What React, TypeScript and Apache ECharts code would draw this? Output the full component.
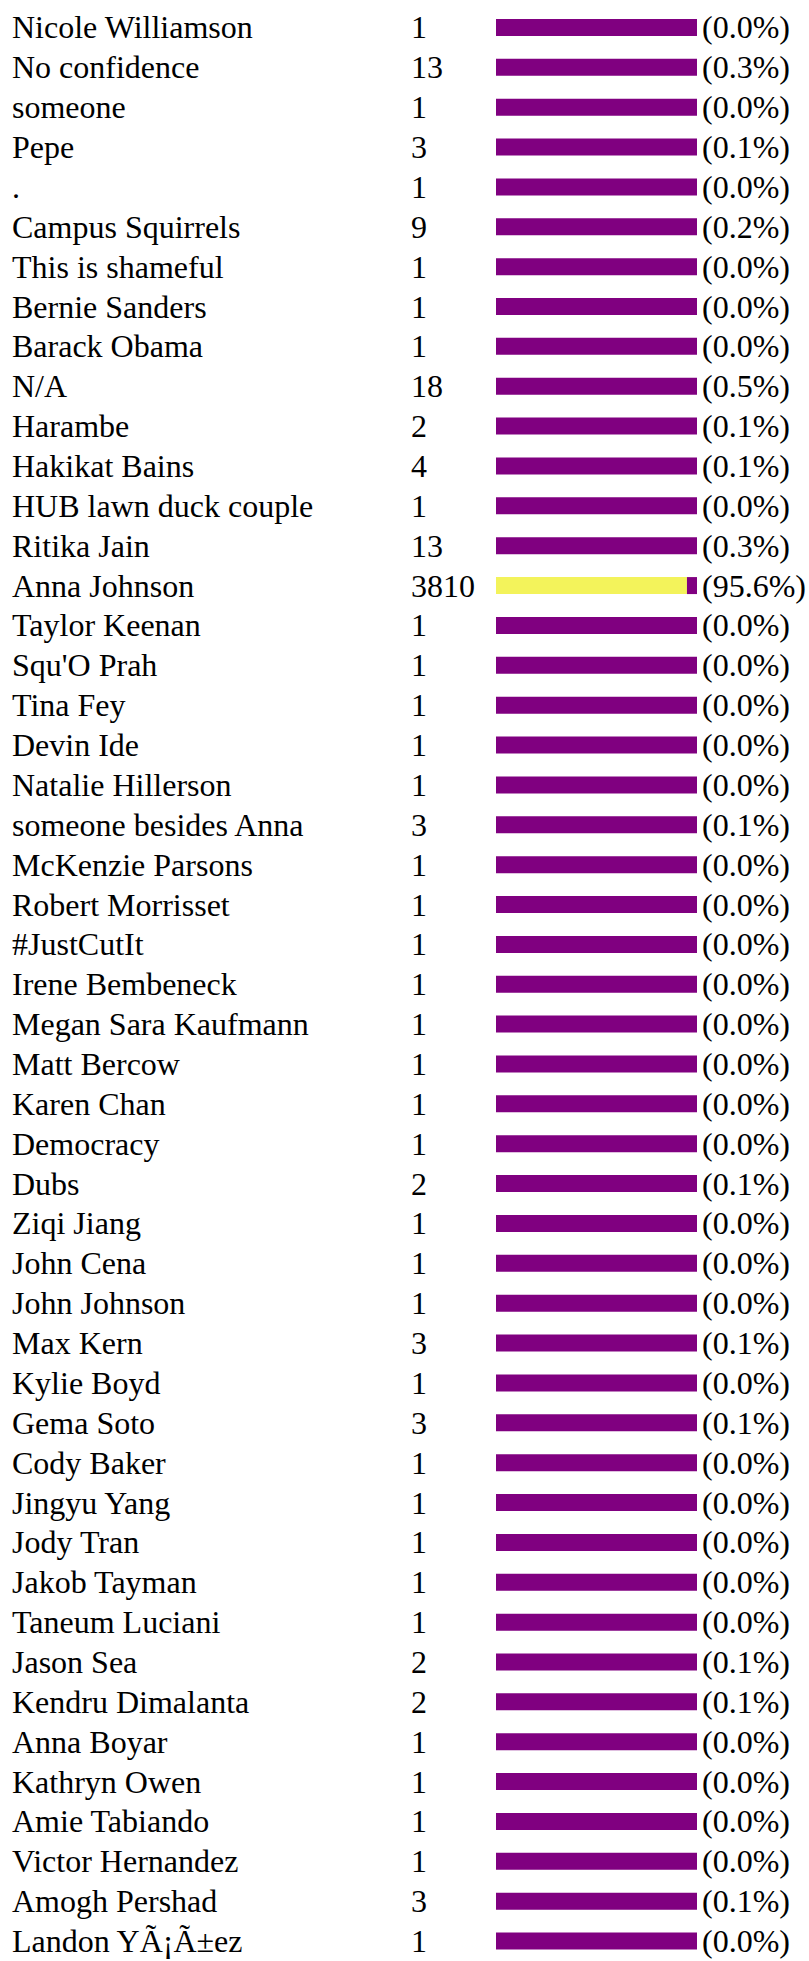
import React, { useEffect, useRef } from "react";
import * as echarts from "echarts";

const names: string[] = [
  "Nicole Williamson", "No confidence", "someone", "Pepe", ".", "Campus Squirrels",
  "This is shameful", "Bernie Sanders", "Barack Obama", "N/A", "Harambe", "Hakikat Bains",
  "HUB lawn duck couple", "Ritika Jain", "Anna Johnson", "Taylor Keenan", "Squ'O Prah",
  "Tina Fey", "Devin Ide", "Natalie Hillerson", "someone besides Anna", "McKenzie Parsons",
  "Robert Morrisset", "#JustCutIt", "Irene Bembeneck", "Megan Sara Kaufmann", "Matt Bercow",
  "Karen Chan", "Democracy", "Dubs", "Ziqi Jiang", "John Cena", "John Johnson", "Max Kern",
  "Kylie Boyd", "Gema Soto", "Cody Baker", "Jingyu Yang", "Jody Tran", "Jakob Tayman",
  "Taneum Luciani", "Jason Sea", "Kendru Dimalanta", "Anna Boyar", "Kathryn Owen",
  "Amie Tabiando", "Victor Hernandez", "Amogh Pershad", "Landon YÃ¡Ã±ez",
];

const counts: number[] = [
  1, 13, 1, 3, 1, 9, 1, 1, 1, 18, 2, 4, 1, 13, 3810, 1, 1, 1, 1, 1, 3, 1, 1, 1, 1, 1, 1,
  1, 1, 2, 1, 1, 1, 3, 1, 3, 1, 1, 1, 1, 1, 2, 2, 1, 1, 1, 1, 3, 1,
];

const percents: number[] = [
  0.0, 0.3, 0.0, 0.1, 0.0, 0.2, 0.0, 0.0, 0.0, 0.5, 0.1, 0.1, 0.0, 0.3, 95.6, 0.0, 0.0,
  0.0, 0.0, 0.0, 0.1, 0.0, 0.0, 0.0, 0.0, 0.0, 0.0, 0.0, 0.0, 0.1, 0.0, 0.0, 0.0, 0.1,
  0.0, 0.1, 0.0, 0.0, 0.0, 0.0, 0.0, 0.1, 0.1, 0.0, 0.0, 0.0, 0.0, 0.1, 0.0,
];

const FONT = "serif";

export default function App() {
  const ref = useRef<HTMLDivElement>(null);
  useEffect(() => {
    if (!ref.current) return;
    const chart = echarts.init(ref.current, undefined, { renderer: "svg" });
    const yes = percents.map((p) => Math.floor(p));
    const rest = yes.map((v) => 100 - v);
    const labelStyle = {
      fontFamily: FONT,
      fontSize: 32,
      color: "#000",
      align: "left" as const,
    };
    chart.setOption({
      animation: false,
      backgroundColor: "#fff",
      textStyle: { fontFamily: FONT },
      grid: { left: 496, right: 112, top: 7.5, bottom: -6.5, containLabel: false },
      xAxis: { type: "value", min: 0, max: 100, show: false },
      yAxis: [
        {
          type: "category",
          data: names,
          inverse: true,
          position: "left",
          axisLine: { show: false },
          axisTick: { show: false },
          axisLabel: { ...labelStyle, margin: 484, interval: 0 },
        },
        {
          type: "category",
          data: counts.map(String),
          inverse: true,
          position: "left",
          axisLine: { show: false },
          axisTick: { show: false },
          axisLabel: { ...labelStyle, margin: 85, interval: 0 },
        },
        {
          type: "category",
          data: percents.map((p) => `(${p.toFixed(1)}%)`),
          inverse: true,
          position: "right",
          axisLine: { show: false },
          axisTick: { show: false },
          axisLabel: { ...labelStyle, margin: 5, interval: 0 },
        },
      ],
      series: [
        {
          type: "bar",
          stack: "s",
          data: yes,
          barWidth: 17,
          itemStyle: { color: "#f3f35b" },
        },
        {
          type: "bar",
          stack: "s",
          data: rest,
          barWidth: 17,
          itemStyle: { color: "#800080" },
        },
      ],
    });
    return () => chart.dispose();
  }, []);
  return (
    <div
      ref={ref}
      style={{ position: "absolute", left: 0, top: 0, width: 809, height: 1961 }}
    />
  );
}
